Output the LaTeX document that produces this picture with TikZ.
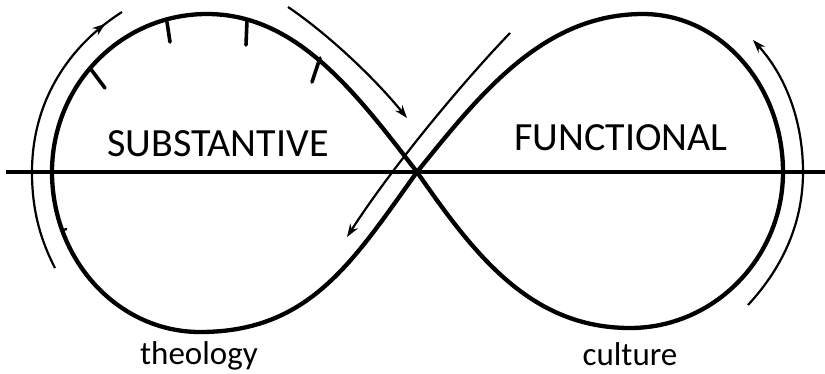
\documentclass[tikz,border=0pt]{standalone}
\usepackage{fontspec}
\setmainfont{Carlito}
\usetikzlibrary{arrows.meta,decorations.markings}

\begin{document}
\begin{tikzpicture}[x=1pt, y=-1pt,
      fig/.style={line width=4.3pt, line join=round},
      axisline/.style={line width=4pt},
      arr/.style={line width=2.2pt, -{Stealth[length=13pt, width=9pt]}},
      notch/.style={line width=3.6pt, line cap=round},
      word/.style={font=\fontsize{40}{48}\selectfont, inner sep=0pt},
      sub/.style={font=\fontsize{33}{40}\selectfont, inner sep=0pt}]
    \useasboundingbox (0,0) rectangle (825,373);
    % the crossing and the extreme points of both lobes
    \coordinate (cross) at (417,172);
    \coordinate (ltop)  at (207,14);
    \coordinate (lleft) at (52,172);
    \coordinate (lbot)  at (200,332);
    \coordinate (rtop)  at (643,14);
    \coordinate (rright) at (783,172);
    \coordinate (rbot)  at (630,328);
    \coordinate (axl) at (6,172);
    \coordinate (axr) at (825,172);
    \draw[axisline] (axl) -- (axr);
    % figure eight
    \draw[fig] (cross) .. controls +(-61,-79) and +(90,0) .. (ltop)
      .. controls +(-86,0) and +(0,-87) .. (lleft)
      .. controls +(0,88) and +(-82,0) .. (lbot)
      .. controls +(110,0) and +(-64,89) .. (cross)
      .. controls +(63,-78) and +(-100,0) .. (rtop)
      .. controls +(77,0) and +(0,-87) .. (rright)
      .. controls +(0,86) and +(84,0) .. (rbot)
      .. controls +(-100,0) and +(57,82) .. (cross);
    % notches on the left lobe
    \foreach \x/\y/\u/\v in {90/68/105/88, 167/22/170/42, 247/20/246/45, 320/58/312/82}
      \draw[notch] (\x,\y) -- (\u,\v);
    \draw[line width=2.4pt] (63,230) -- (67,229);
    % arrows round the lobes
    \draw[line width=2.2pt, postaction=decorate, decoration={markings,
        mark=at position 0.93 with {\arrow{Stealth[length=13pt, width=9pt]}}}]
      (55,268) .. controls (38,235) and (32,205) .. (32,172)
      .. controls (32,100) and (70,45) .. (122,12);
    \draw[arr] (288,7) .. controls (325,32) and (372,75) .. (407,118);
    \draw[arr] (510,33) .. controls (460,85) and (390,170) .. (347,237);
    \draw[arr] (748,305) .. controls (785,265) and (803,220) .. (803,172)
      .. controls (803,120) and (785,75) .. (753,40);
    % labels
    \node[word] (subst) at (218,144) {SUBSTANTIVE};
    \node[word] (funct) at (621,138) {FUNCTIONAL};
    \node[sub, anchor=base] (theol) at (199,364) {theology};
    \node[sub, anchor=base] (cult) at (630,365) {culture};
  \end{tikzpicture}
\end{document}
